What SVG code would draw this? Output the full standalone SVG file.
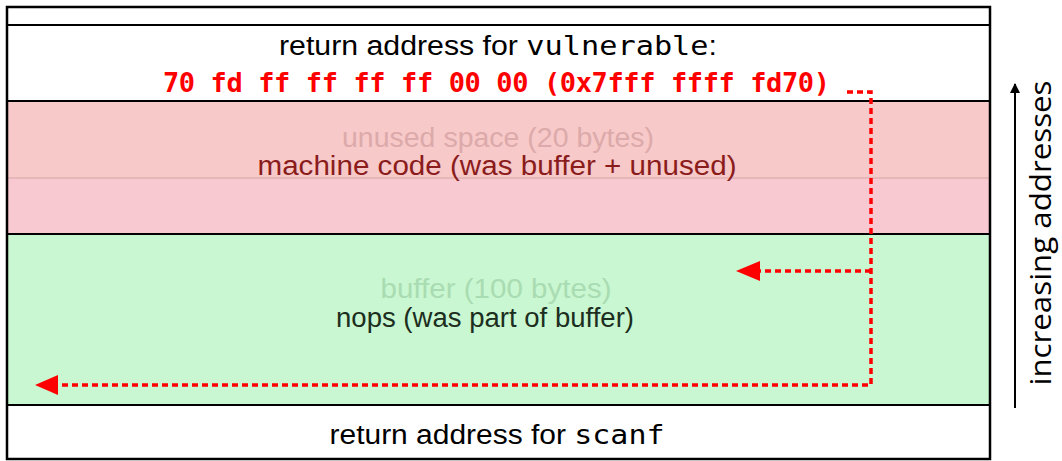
<svg xmlns="http://www.w3.org/2000/svg" width="1062" height="461" viewBox="0 0 1062 461">
<style>
.lbl{font-family:"Liberation Sans",Arial,sans-serif;font-size:27px;text-anchor:middle}
.mono{font-family:"DejaVu Sans Mono",monospace}
.sep{stroke:#000;stroke-width:2}
.conn{fill:none;stroke:#ff0000;stroke-width:3.5;stroke-dasharray:6 4}
</style>
<defs>
<marker id="bk" markerWidth="10" markerHeight="10" refX="9" refY="5" orient="auto" markerUnits="userSpaceOnUse">
<path d="M0,0 L10,5 L0,10 Z" fill="#000"/>
</marker>
</defs>
<rect x="0" y="0" width="1062" height="461" fill="#fff"/>
<g id="top-strip"><rect x="7" y="7" width="983" height="18" fill="#fff"/></g>
<g id="ret-vulnerable">
<rect x="7" y="25" width="983" height="76" fill="#fff"/>
<text class="lbl" x="498" y="55" textLength="438" lengthAdjust="spacingAndGlyphs">return address for <tspan class="mono">vulnerable</tspan>:</text>
<text class="mono" x="163" y="92" font-size="27" font-weight="bold" fill="#ff0000" textLength="667">70 fd ff ff ff ff 00 00 (0x7fff ffff fd70)</text>
</g>
<g id="machine-code">
<rect x="7" y="101" width="983" height="77" fill="#f7c9c9"/>
<rect x="7" y="178" width="983" height="56" fill="#f8c9d0"/>
<line x1="7" y1="178" x2="990" y2="178" stroke="#e0b0b0" stroke-width="1.5"/>
<text class="lbl" x="498" y="147" fill="#dcaaaa" textLength="312" lengthAdjust="spacingAndGlyphs">unused space (20 bytes)</text>
<text class="lbl" x="497" y="175" fill="#8b1c1c" textLength="479" lengthAdjust="spacingAndGlyphs">machine code (was buffer + unused)</text>
</g>
<g id="nops">
<rect x="7" y="234" width="983" height="171" fill="#c9f7d1"/>
<text class="lbl" x="496" y="298" fill="#a9dcb2" textLength="231" lengthAdjust="spacingAndGlyphs">buffer (100 bytes)</text>
<text class="lbl" x="485" y="327" fill="#1c2e20" textLength="298" lengthAdjust="spacingAndGlyphs">nops (was part of buffer)</text>
</g>
<g id="ret-scanf">
<rect x="7" y="405" width="983" height="54" fill="#fff"/>
<text class="lbl" x="497" y="444" textLength="335" lengthAdjust="spacingAndGlyphs">return address for <tspan class="mono">scanf</tspan></text>
</g>
<g id="separators">
<line class="sep" x1="7" y1="25" x2="990" y2="25"/>
<line class="sep" x1="7" y1="101" x2="990" y2="101"/>
<line class="sep" x1="7" y1="234" x2="990" y2="234"/>
<line class="sep" x1="7" y1="405" x2="990" y2="405"/>
<rect x="7" y="7" width="983" height="452" fill="none" stroke="#000" stroke-width="2.5"/>
</g>
<g id="connectors">
<path class="conn" d="M847,92 H871 V385 H58"/>
<path d="M58,375 L35,385 L58,395 Z" fill="#ff0000"/>
<path class="conn" d="M871,271 H760"/>
<path d="M760,261 L736,271 L760,281 Z" fill="#ff0000"/>
</g>
<g id="axis">
<line x1="1015" y1="408" x2="1015" y2="84" stroke="#000" stroke-width="2" marker-end="url(#bk)"/>
<text x="1051" y="233" transform="rotate(-90 1051 233)" font-family="'Open Sans',sans-serif" font-size="30" text-anchor="middle" fill="#000" textLength="305" lengthAdjust="spacingAndGlyphs">increasing addresses</text>
</g>
</svg>
